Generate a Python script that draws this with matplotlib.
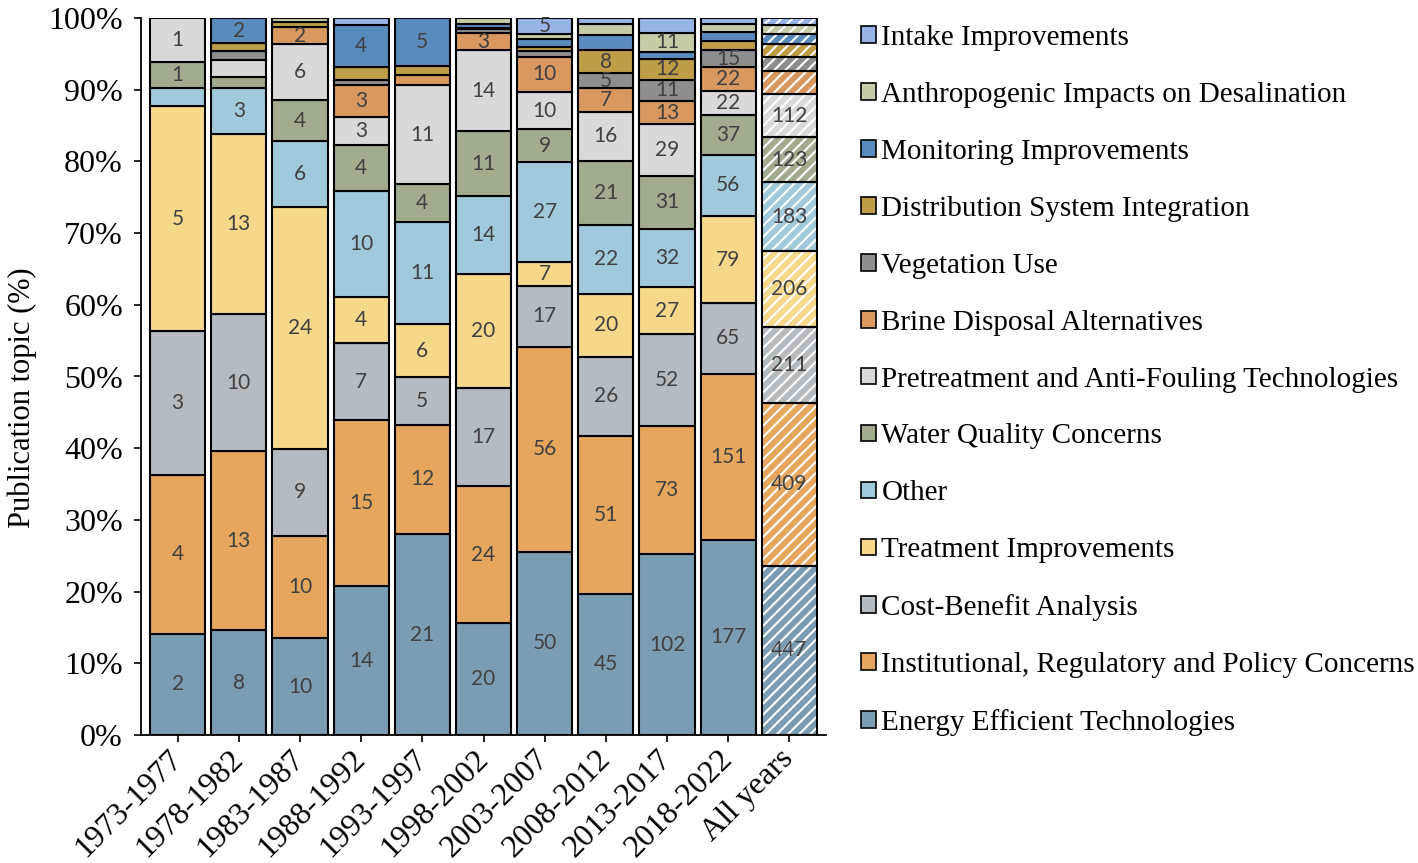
import matplotlib
matplotlib.use('Agg')
import matplotlib.pyplot as plt
from matplotlib.patches import Patch
import numpy as np

periods = ['1973-1977', '1978-1982', '1983-1987', '1988-1992', '1993-1997',
           '1998-2002', '2003-2007', '2008-2012', '2013-2017', '2018-2022', 'All years']

# topics listed bottom -> top of the stack
topics = ['Energy Efficient Technologies',
          'Institutional, Regulatory and Policy Concerns',
          'Cost-Benefit Analysis',
          'Treatment Improvements',
          'Other',
          'Water Quality Concerns',
          'Pretreatment and Anti-Fouling Technologies',
          'Brine Disposal Alternatives',
          'Vegetation Use',
          'Distribution System Integration',
          'Monitoring Improvements',
          'Anthropogenic Impacts on Desalination',
          'Intake Improvements']

# share of publications (%) per period
energy_pct   = [14.1, 14.6, 13.5, 20.8, 28.0, 15.6, 25.5, 19.7, 25.2, 27.3, 23.6]
inst_pct     = [22.2, 25.0, 14.3, 23.2, 15.3, 19.1, 28.6, 22.0, 17.9, 23.2, 22.7]
cost_pct     = [20.0, 19.1, 12.2, 10.7, 6.6, 13.8, 8.5, 11.0, 12.8, 9.9, 10.6]
treat_pct    = [31.4, 25.1, 33.8, 6.4, 7.4, 15.8, 3.3, 8.8, 6.6, 12.1, 10.6]
other_pct    = [2.5, 6.4, 9.2, 14.9, 14.2, 10.9, 13.9, 9.6, 8.1, 8.6, 9.6]
water_pct    = [3.7, 1.6, 5.7, 6.3, 5.3, 9.1, 4.6, 8.9, 7.4, 5.6, 6.3]
pretreat_pct = [6.1, 2.3, 7.8, 4.0, 13.8, 11.3, 5.2, 6.8, 7.2, 3.3, 6.0]
brine_pct    = [0.0, 0.0, 2.4, 4.5, 1.4, 2.4, 4.9, 3.3, 3.2, 3.3, 3.2]
veg_pct      = [0.0, 1.3, 0.0, 0.6, 0.0, 0.5, 0.8, 2.1, 3.0, 2.4, 2.0]
dist_pct     = [0.0, 1.1, 0.7, 1.8, 1.3, 0.2, 0.6, 3.2, 2.9, 1.3, 1.8]
mon_pct      = [0.0, 3.5, 0.0, 5.9, 6.7, 0.6, 1.1, 2.1, 1.0, 1.3, 1.4]
anth_pct     = [0.0, 0.0, 0.6, 0.0, 0.0, 0.8, 0.7, 1.5, 2.6, 1.1, 1.2]
intake_pct   = [0.0, 0.0, 0.0, 1.0, 0.0, 0.0, 2.2, 0.9, 2.1, 0.8, 1.0]

# publication counts shown as data labels (None = no label shown)
N = None
energy_n   = [2, 8, 10, 14, 21, 20, 50, 45, 102, 177, 447]
inst_n     = [4, 13, 10, 15, 12, 24, 56, 51, 73, 151, 409]
cost_n     = [3, 10, 9, 7, 5, 17, 17, 26, 52, 65, 211]
treat_n    = [5, 13, 24, 4, 6, 20, 7, 20, 27, 79, 206]
other_n    = [N, 3, 6, 10, 11, 14, 27, 22, 32, 56, 183]
water_n    = [1, N, 4, 4, 4, 11, 9, 21, 31, 37, 123]
pretreat_n = [1, N, 6, 3, 11, 14, 10, 16, 29, 22, 112]
brine_n    = [N, N, 2, 3, N, 3, 10, 7, 13, 22, N]
veg_n      = [N, N, N, N, N, N, N, 5, 11, 15, N]
dist_n     = [N, N, N, N, N, N, N, 8, 12, N, N]
mon_n      = [N, 2, N, 4, 5, N, N, N, N, N, N]
anth_n     = [N, N, N, N, N, N, N, N, 11, N, N]
intake_n   = [N, N, N, N, N, N, 5, N, N, N, N]

colors = ['#7B9DB4', '#E6A65D', '#B4BBC1', '#F6D88A', '#A0CADB', '#A1AC8E',
          '#D9D9D9', '#D9985F', '#8E8E8E', '#BF9D46', '#5A8BBE', '#C6CCA8', '#98B3E6']

pct_rows = [energy_pct, inst_pct, cost_pct, treat_pct, other_pct, water_pct,
            pretreat_pct, brine_pct, veg_pct, dist_pct, mon_pct, anth_pct, intake_pct]
label_rows = [energy_n, inst_n, cost_n, treat_n, other_n, water_n,
              pretreat_n, brine_n, veg_n, dist_n, mon_n, anth_n, intake_n]

plt.rcParams['hatch.linewidth'] = 1.5
serif = 'Liberation Serif'

fig = plt.figure(figsize=(14.18, 8.63), dpi=100)
ax = fig.add_axes([141 / 1418, 128 / 863, 685 / 1418, 717 / 863])

x = np.arange(len(periods))
data = np.array(pct_rows, dtype=float)
data = data / data.sum(axis=0) * 100
bottom = np.zeros(len(periods))
W = 0.9
for row, labs, col in zip(data, label_rows, colors):
    for j in range(len(periods)):
        if row[j] <= 0:
            continue
        if periods[j] == 'All years':
            ax.bar(x[j], row[j], bottom=bottom[j], width=W, color=col,
                   edgecolor='white', hatch='///', linewidth=0, zorder=2)
            ax.bar(x[j], row[j], bottom=bottom[j], width=W, fill=False,
                   edgecolor='black', linewidth=1.5, zorder=3)
        else:
            ax.bar(x[j], row[j], bottom=bottom[j], width=W, color=col,
                   edgecolor='black', linewidth=1.5, zorder=3)
        if labs[j] is not None:
            ax.text(x[j], bottom[j] + row[j] / 2, str(labs[j]), ha='center',
                    va='center', fontsize=15, color='#404040', family='Lato', zorder=4)
    bottom += row

ax.set_xlim(-0.6, len(periods) - 0.4)
ax.set_ylim(0, 100)
ax.set_yticks(np.arange(0, 101, 10))
ax.set_yticklabels([f'{v}%' for v in range(0, 101, 10)], family=serif, fontsize=23)
ax.set_xticks(x)
ax.set_xticklabels(periods, family=serif, fontsize=23, rotation=45, ha='right',
                   va='center', rotation_mode='anchor')
ax.tick_params(axis='x', length=5, width=1.2, pad=9)
ax.tick_params(axis='y', length=5, width=1.2, pad=8)
for s in ['top', 'right']:
    ax.spines[s].set_visible(False)
for s in ['left', 'bottom']:
    ax.spines[s].set_linewidth(1.3)
    ax.spines[s].set_color('black')
ax.set_ylabel('Publication topic (%)', family=serif, fontsize=22)
ax.yaxis.set_label_coords(-0.152, 0.47)

handles = [Patch(facecolor=c, edgecolor='black', linewidth=1.2) for c in colors]
fig.legend(handles[::-1], topics[::-1], loc='upper left',
           bbox_to_anchor=(861 / 1418, 1 - 25 / 863), frameon=False,
           prop={'family': serif, 'size': 21}, handlelength=0.5, handleheight=0.5,
           handletextpad=0.2, labelspacing=1.06, borderpad=0, borderaxespad=0)

fig.savefig('out.png', dpi=100)
